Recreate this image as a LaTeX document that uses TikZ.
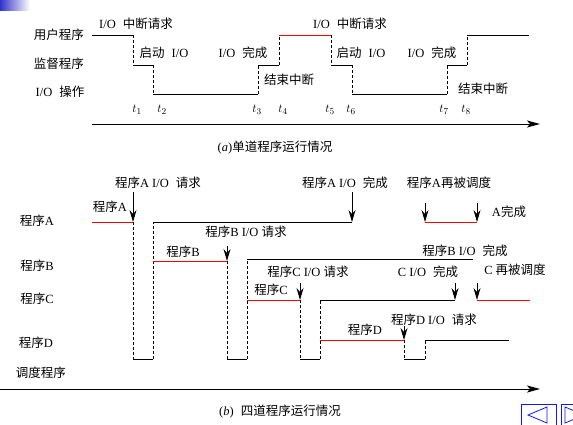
\documentclass[tikz,border=0pt]{standalone}
\usepackage{fontspec}
\setmainfont{Liberation Serif}
\newfontfamily\cjk{Noto Sans CJK SC}
\usepackage{tikz}
\usetikzlibrary{arrows.meta}
\definecolor{runred}{RGB}{255,0,0}
\definecolor{navblue}{RGB}{20,20,255}
\definecolor{cornerblue}{RGB}{51,51,204}
\newcommand{\zh}[1]{{\cjk #1}}
\newcommand{\gap}{\hspace{7pt}}
\tikzset{
  lbl/.style      = {font=\fontsize{12.5}{14}\selectfont, inner sep=0pt},
  waitseg/.style  = {line width=0.8pt, black},
  runseg/.style   = {line width=0.8pt, runred},
  swseg/.style    = {line width=0.8pt, dash pattern=on 3pt off 2pt},
  evarrow/.style  = {-{Stealth[length=12pt,width=7pt,inset=4pt]}, line width=0.9pt},
  timeaxis/.style = {-{Stealth[length=13pt,width=7pt,inset=3pt]}, line width=1pt},
  navbtn/.style   = {navblue, line width=0.8pt}
}

\begin{document}
\begin{tikzpicture}[x=1pt, y=-1pt]
  \useasboundingbox (0,0) rectangle (573,424);
  % corner mark
  \shade[left color=cornerblue, right color=white] (0,0) rectangle (30,10);

  % ---------- (a) single program ----------
  \node[lbl] (userlbl) at (59,35) {\zh{用户程序}};
  \node[lbl] (suplbl)  at (59,64) {\zh{监督程序}};
  \node[lbl] (iolbl)   at (60,92) {I/O\gap\zh{操作}};
  % trace
  \draw[waitseg] (92,35) -- (133,35);
  \draw[swseg]   (133,35) -- (133,65);
  \draw[waitseg] (133,65) -- (153,65);
  \draw[swseg]   (153,65) -- (153,94);
  \draw[waitseg] (153,94) -- (258,94);
  \draw[swseg]   (258,94) -- (258,65);
  \draw[waitseg] (258,65) -- (279,65);
  \draw[swseg]   (279,65) -- (279,35);
  \draw[runseg]  (279,35) -- (331,35);
  \draw[swseg]   (331,35) -- (331,65);
  \draw[waitseg] (331,65) -- (352,65);
  \draw[swseg]   (352,65) -- (352,94);
  \draw[waitseg] (352,94) -- (447,94);
  \draw[swseg]   (447,94) -- (447,65);
  \draw[waitseg] (447,65) -- (467,65);
  \draw[swseg]   (467,65) -- (467,35);
  \draw[waitseg] (467,35) -- (529,35);
  % event labels
  \node[lbl] (irq1)  at (136,24) {I/O\gap\zh{中断请求}};
  \node[lbl] (go1)   at (164,53) {\zh{启动}\gap I/O};
  \node[lbl] (done1) at (243,53) {I/O\gap\zh{完成}};
  \node[lbl] (end1)  at (289,80) {\zh{结束中断}};
  \node[lbl] (irq2)  at (350,24) {I/O\gap\zh{中断请求}};
  \node[lbl] (go2)   at (361,53) {\zh{启动}\gap I/O};
  \node[lbl] (done2) at (432,53) {I/O\gap\zh{完成}};
  \node[lbl] (end2)  at (483,89) {\zh{结束中断}};
  % time marks
  \foreach \x [count=\i] in {137,162,257,283,330,351,444,466}
    \node[lbl] (tm\i) at (\x,110) {$t_{\i}$};
  \coordinate (axa0) at (92,124);
  \coordinate (axa1) at (540,124);
  \draw[timeaxis] (axa0) -- (axa1);
  \node[lbl] (capa) at (275,148) {(\textit{a})\zh{单道程序运行情况}};

  % ---------- (b) four programs ----------
  \node[lbl] (progA) at (37,221) {\zh{程序}A};
  \node[lbl] (progB) at (37,266) {\zh{程序}B};
  \node[lbl] (progC) at (37,299) {\zh{程序}C};
  \node[lbl] (progD) at (36,343) {\zh{程序}D};
  \node[lbl] (sched) at (41,373) {\zh{调度程序}};
  % program A
  \draw[runseg]  (92,222) -- (133,222);
  \draw[swseg]   (133,222) -- (133,359);
  \draw[waitseg] (133,359) -- (153,359);
  \draw[swseg]   (153,359) -- (153,222);
  \draw[waitseg] (153,222) -- (352,222);
  \draw[runseg]  (425,222) -- (477,222);
  % program B
  \draw[runseg]  (153,261) -- (227,261);
  \draw[swseg]   (227,261) -- (227,359);
  \draw[waitseg] (227,359) -- (247,359);
  \draw[swseg]   (247,359) -- (247,259);
  \draw[waitseg] (247,259) -- (473,259);
  % program C
  \draw[runseg]  (247,300) -- (300,300);
  \draw[swseg]   (300,300) -- (300,359);
  \draw[waitseg] (300,359) -- (320,359);
  \draw[swseg]   (320,359) -- (320,300);
  \draw[waitseg] (320,300) -- (455,300);
  \draw[runseg]  (477,300) -- (530,300);
  % program D
  \draw[runseg]  (320,340) -- (404,340);
  \draw[swseg]   (404,340) -- (404,359);
  \draw[waitseg] (404,359) -- (425,359);
  \draw[swseg]   (425,359) -- (425,340);
  \draw[waitseg] (425,340) -- (509,340);
  % event arrows
  \foreach \x/\ya/\yb [count=\i] in {133/192/222, 227/246/261, 300/283/300,
      352/192/222, 425/203/222, 477/203/222, 455/283/300, 477/283/300, 404/326/340} {
    \coordinate (ev\i s) at (\x,\ya);
    \coordinate (ev\i e) at (\x,\yb);
    \draw[evarrow] (ev\i s) -- (ev\i e);
  }
  % event labels
  \node[lbl] (reqA)  at (158,183) {\zh{程序}A I/O\gap\zh{请求}};
  \node[lbl] (runA)  at (110,207) {\zh{程序}A};
  \node[lbl] (reqB)  at (246,232) {\zh{程序}B I/O \zh{请求}};
  \node[lbl] (runB)  at (183,252) {\zh{程序}B};
  \node[lbl] (reqC)  at (308,272) {\zh{程序}C I/O \zh{请求}};
  \node[lbl] (runC)  at (271,290) {\zh{程序}C};
  \node[lbl] (doneA) at (345,183) {\zh{程序}A I/O\gap\zh{完成}};
  \node[lbl] (backA) at (449,183) {\zh{程序}A\zh{再被调度}};
  \node[lbl] (finA)  at (509,212) {A\zh{完成}};
  \node[lbl] (doneB) at (465,251) {\zh{程序}B I/O\gap\zh{完成}};
  \node[lbl] (doneC) at (428,272) {C I/O\gap\zh{完成}};
  \node[lbl] (backC) at (515,270) {C \zh{再被调度}};
  \node[lbl] (runD)  at (365,330) {\zh{程序}D};
  \node[lbl] (reqD)  at (434,320) {\zh{程序}D I/O\gap\zh{请求}};
  \coordinate (axb0) at (0,389);
  \coordinate (axb1) at (540,389);
  \draw[timeaxis] (axb0) -- (axb1);
  \node[lbl] (capb) at (280,412) {(\textit{b})\gap\zh{四道程序运行情况}};

  % navigation buttons
  \begin{scope}
    \clip (0,0) rectangle (573,424);
    \draw[navbtn] (521,404) rectangle (556,430);
    \draw[navbtn] (561,404) rectangle (600,430);
    \draw[navbtn] (547,407) -- (528,415) -- (547,423) -- cycle;
    \draw[navbtn] (565,407) -- (584,415) -- (565,423) -- cycle;
  \end{scope}
\end{tikzpicture}
\end{document}
